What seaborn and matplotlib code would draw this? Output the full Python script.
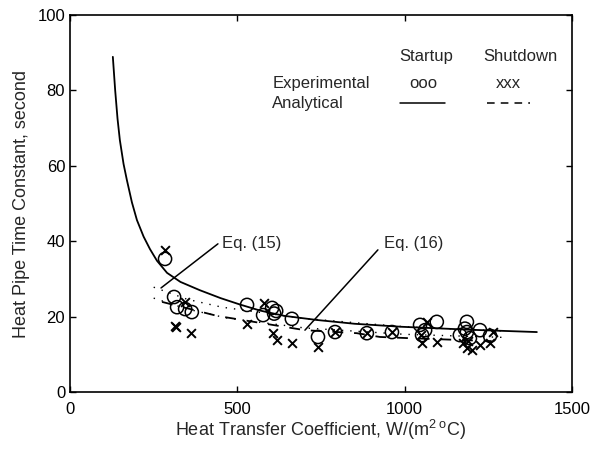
import numpy as np
import pandas as pd
import matplotlib
matplotlib.use("Agg")
import matplotlib.pyplot as plt
import seaborn as sns

# ---- data ----
startup_h = [284, 311, 320, 344, 364, 529, 577, 604, 616, 610, 663, 741, 792,
             887, 962, 1046, 1061, 1096, 1052, 1186, 1165, 1186, 1225, 1255, 1195, 1180]
startup_tau = [35.3, 25.2, 22.5, 22.0, 21.2, 23.1, 20.4, 22.3, 21.5, 20.8, 19.4, 14.6, 15.9,
               15.6, 15.9, 17.8, 16.4, 18.6, 15.1, 18.6, 15.1, 15.9, 16.4, 14.9, 14.3, 16.8]

shutdown_h = [284, 314, 318, 362, 344, 529, 580, 607, 619, 663, 741, 792,
              887, 962, 1052, 1096, 1067, 1050, 1186, 1175, 1225, 1255, 1264, 1190, 1200]
shutdown_tau = [37.7, 17.5, 17.2, 15.6, 23.9, 18.0, 23.6, 15.6, 13.8, 13.0, 11.9, 15.9,
                15.6, 15.9, 13.0, 13.3, 18.6, 15.1, 11.7, 13.0, 12.5, 13.0, 15.9, 13.5, 11.2]

solid_h = [128, 135, 142, 149, 160, 170, 185, 200, 220, 239, 260, 290, 330, 388,
           450, 508, 568, 640, 738, 850, 990, 1200, 1395]
solid_tau = [88.9, 80.0, 72.5, 66.8, 60.5, 56.2, 50.3, 45.6, 41.2, 37.9, 34.8, 31.6, 29.2, 27.0,
             24.9, 23.2, 21.6, 20.2, 19.1, 18.1, 17.3, 16.5, 15.9]

dashed_h = [275, 439, 702, 857, 926, 1007, 1260]
dashed_tau = [23.9, 20.2, 16.4, 15.6, 14.6, 14.3, 13.5]

dot_up_h = [250, 350, 454, 700, 1000, 1290]
dot_up_tau = [27.8, 24.6, 22.5, 19.5, 17.3, 16.2]

dot_lo_h = [250, 350, 470, 700, 1000, 1290]
dot_lo_tau = [24.9, 22.0, 19.6, 17.0, 15.3, 14.5]

x_ticks = [0, 500, 1000, 1500]
y_ticks = [0, 20, 40, 60, 80, 100]

# ---- style ----
sns.set_theme(style="ticks")
plt.rcParams['font.family'] = ['Liberation Sans', 'DejaVu Sans']
plt.rcParams['mathtext.fontset'] = 'custom'
plt.rcParams['mathtext.rm'] = 'Liberation Sans'
plt.rcParams['mathtext.it'] = 'Liberation Sans:italic'
plt.rcParams['xtick.direction'] = 'in'
plt.rcParams['ytick.direction'] = 'in'

FS = 12
fig = plt.figure(figsize=(5.93, 4.5), dpi=100)
ax = fig.add_axes([70/593, 1-392/450, (572-70)/593, (392-15)/450])

df_s = pd.DataFrame({"h": startup_h, "tau": startup_tau})
df_d = pd.DataFrame({"h": shutdown_h, "tau": shutdown_tau})

sns.lineplot(x=solid_h, y=solid_tau, ax=ax, color='black', lw=1.3, sort=True)
sns.lineplot(x=dashed_h, y=dashed_tau, ax=ax, color='black', lw=1.3, sort=True,
             linestyle=(0, (6, 6)))
sns.lineplot(x=dot_up_h, y=dot_up_tau, ax=ax, color='black', lw=1.0, sort=True,
             linestyle=(0, (1, 5)))
sns.lineplot(x=dot_lo_h, y=dot_lo_tau, ax=ax, color='black', lw=1.0, sort=True,
             linestyle=(0, (1, 5)))

sns.scatterplot(data=df_s, x="h", y="tau", ax=ax, marker='o', s=90,
                facecolor='none', edgecolor='black', linewidth=1.1)
sns.scatterplot(data=df_d, x="h", y="tau", ax=ax, marker='x', s=40,
                color='black', linewidth=1.4)

# annotations
ax.plot([442, 272], [39.3, 27.6], color='black', lw=1.1)
ax.text(454, 39.5, "Eq. (15)", fontsize=FS, va='center', ha='left')
ax.plot([920, 702], [37.7, 16.4], color='black', lw=1.1)
ax.text(938, 39.5, "Eq. (16)", fontsize=FS, va='center', ha='left')

# legend-like text table
ax.text(1064, 88.9, "Startup", fontsize=FS, ha='center', va='center')
ax.text(1345, 88.9, "Shutdown", fontsize=FS, ha='center', va='center')
ax.text(604, 81.7, "Experimental", fontsize=FS, ha='left', va='center')
ax.text(1055, 81.7, "ooo", fontsize=FS, ha='center', va='center')
ax.text(1309, 81.7, "xxx", fontsize=FS, ha='center', va='center')
ax.text(604, 76.4, "Analytical", fontsize=FS, ha='left', va='center')
ax.plot([986, 1121], [76.7, 76.7], color='black', lw=1.1)
ax.plot([1246, 1374], [76.7, 76.7], color='black', lw=1.1, linestyle=(0, (5, 4)))

ax.set_xlim(0, 1500)
ax.set_ylim(0, 100)
ax.set_xticks(x_ticks)
ax.set_yticks(y_ticks)
ax.tick_params(top=True, right=True, labelsize=FS, length=4, width=1, colors='black')
ax.tick_params(axis='x', pad=7)
for sp in ax.spines.values():
    sp.set_visible(True)
    sp.set_color('black')
    sp.set_linewidth(1.2)
ax.set_xlabel(r"Heat Transfer Coefficient, W/(m$^{\mathrm{2\ o}}$C)", fontsize=13, labelpad=1)
ax.set_ylabel("Heat Pipe Time Constant, second", fontsize=13, labelpad=5)
ax.set_facecolor('white')
fig.patch.set_facecolor('white')

fig.savefig("out.png", dpi=100, facecolor='white')
